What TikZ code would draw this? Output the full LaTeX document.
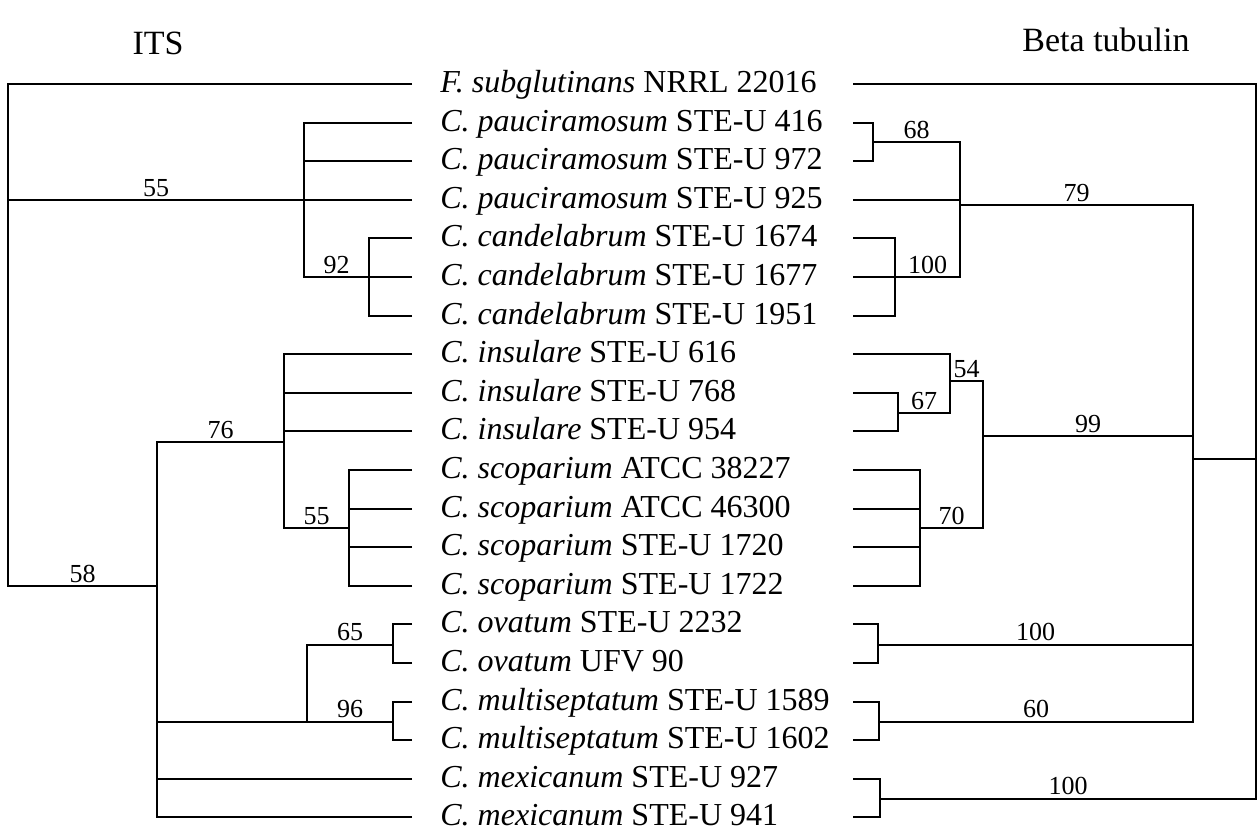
\documentclass[tikz,border=0pt]{standalone}
\usepackage{fontspec}
\setmainfont{Liberation Serif}
\usetikzlibrary{positioning}

\begin{document}
\begin{tikzpicture}[
    x=0.5pt, y=-0.5pt,
    taxon/.style={anchor=base west, inner sep=0pt, font=\fontsize{16}{18}\selectfont},
    title/.style={inner sep=0pt, font=\fontsize{17}{20}\selectfont},
    boot/.style={above, inner sep=1.2pt, font=\fontsize{13}{15}\selectfont},
    branch/.style={line width=1pt}
]
\useasboundingbox (0,0) rectangle (1258,834);

% Titles
\node[title] (its) at (158,43) {ITS};
\node[title] (beta) at (1106,40) {Beta tubulin};

% Taxa, with the leaf ends of both trees
\foreach \species/\strain [count=\i from 0] in {
    F. subglutinans/NRRL 22016,
    C. pauciramosum/STE-U 416, C. pauciramosum/STE-U 972, C. pauciramosum/STE-U 925,
    C. candelabrum/STE-U 1674, C. candelabrum/STE-U 1677, C. candelabrum/STE-U 1951,
    C. insulare/STE-U 616, C. insulare/STE-U 768, C. insulare/STE-U 954,
    C. scoparium/ATCC 38227, C. scoparium/ATCC 46300, C. scoparium/STE-U 1720, C. scoparium/STE-U 1722,
    C. ovatum/STE-U 2232, C. ovatum/UFV 90,
    C. multiseptatum/STE-U 1589, C. multiseptatum/STE-U 1602,
    C. mexicanum/STE-U 927, C. mexicanum/STE-U 941}{
  \pgfmathsetmacro{\yy}{84+38.6*\i}
  \node[taxon] (t\i) at (440,{\yy+8.5}) {\textit{\species} \strain};
  \coordinate (l\i) at (412,\yy);
  \coordinate (r\i) at (853,\yy);
}

% ITS tree
\coordinate (rootL) at (8,200);
\coordinate (n55) at (304,200);
\coordinate (n92) at (369,277);
\coordinate (n58) at (157,586);
\coordinate (n76) at (284,442);
\coordinate (n55b) at (349,528);
\coordinate (nOM) at (307,721.5);
\coordinate (n65) at (393,644.5);
\coordinate (n96) at (393,721.5);

\foreach \k/\c in {0/rootL,1/n55,2/n55,3/n55,4/n92,5/n92,6/n92,7/n76,8/n76,9/n76,
    10/n55b,11/n55b,12/n55b,13/n55b,14/n65,15/n65,16/n96,17/n96,18/n58,19/n58}
  \draw[branch] (l\k) -| (\c);

\draw[branch] (n55) -- node[boot]{55} (rootL);
\draw[branch] (n92) -| node[boot,pos=0.25]{92} (n55);
\draw[branch] (n58) -| node[boot,pos=0.25]{58} (rootL);
\draw[branch] (n76) -| node[boot,pos=0.25]{76} (n58);
\draw[branch] (n55b) -| node[boot,pos=0.25]{55} (n76);
\draw[branch] (nOM) -| (n58);
\draw[branch] (n65) -| node[boot,pos=0.25]{65} (nOM);
\draw[branch] (n96) -- node[boot]{96} (nOM);

% Beta tubulin tree
\coordinate (rootR) at (1256,459);
\coordinate (nBig) at (1193,459);
\coordinate (n79) at (960,205);
\coordinate (n68) at (873,142);
\coordinate (n100c) at (895,277);
\coordinate (n99) at (983,436);
\coordinate (n54) at (950,381);
\coordinate (n67) at (898,413);
\coordinate (n70) at (920,528);
\coordinate (nOv) at (878,644.5);
\coordinate (n60) at (879,721.5);
\coordinate (nMex) at (880,798.5);

\foreach \k/\c in {0/rootR,1/n68,2/n68,3/n79,4/n100c,5/n100c,6/n100c,7/n54,8/n67,9/n67,
    10/n70,11/n70,12/n70,13/n70,14/nOv,15/nOv,16/n60,17/n60,18/nMex,19/nMex}
  \draw[branch] (r\k) -| (\c);

\draw[branch] (n68) -| node[boot,pos=0.25]{68} (n79);
\draw[branch] (n100c) -| node[boot,pos=0.25]{100} (n79);
\draw[branch] (n79) -| node[boot,pos=0.25]{79} (nBig);
\draw[branch] (n67) -| node[boot,pos=0.25]{67} (n54);
\draw[branch] (n54) -| node[boot,pos=0.25]{54} (n99);
\draw[branch] (n70) -| node[boot,pos=0.25]{70} (n99);
\draw[branch] (n99) -| node[boot,pos=0.25]{99} (nBig);
\draw[branch] (nOv) -| node[boot,pos=0.25]{100} (nBig);
\draw[branch] (n60) -| node[boot,pos=0.25]{60} (nBig);
\draw[branch] (nBig) -- (rootR);
\draw[branch] (nMex) -| node[boot,pos=0.25]{100} (rootR);

\end{tikzpicture}
\end{document}
